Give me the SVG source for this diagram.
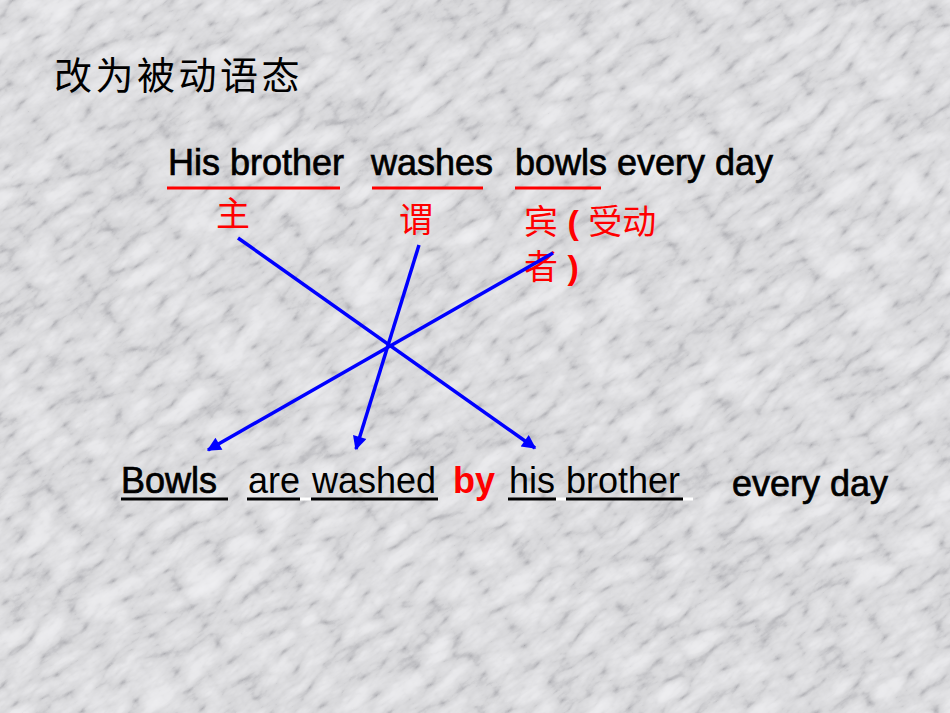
<svg xmlns="http://www.w3.org/2000/svg" width="950" height="713" viewBox="0 0 950 713">
<defs>
<filter id="marble" x="0" y="0" width="100%" height="100%" color-interpolation-filters="sRGB">
<feTurbulence type="turbulence" baseFrequency="0.02 0.045" numOctaves="5" seed="11" result="t"/>
<feColorMatrix in="t" type="matrix" values="0.33 0.33 0.33 0 0  0.33 0.33 0.33 0 0  0.33 0.33 0.33 0 0  0 0 0 0 1" result="g"/>
<feComponentTransfer in="g">
<feFuncR type="table" tableValues="0.66 0.84 0.91 0.94 0.95"/>
<feFuncG type="table" tableValues="0.66 0.84 0.91 0.94 0.95"/>
<feFuncB type="table" tableValues="0.68 0.85 0.92 0.95 0.96"/>
</feComponentTransfer>
</filter>
<marker id="arr" viewBox="0 0 10 10" refX="9" refY="5" markerWidth="5" markerHeight="4" orient="auto" markerUnits="strokeWidth">
<path d="M0,0 L10,5 L0,10 Z" fill="#0000ff"/>
</marker>
<style>
.en{font-family:"Liberation Sans",Arial,sans-serif;font-size:36px;fill:#000}
.bold{stroke:#000;stroke-width:0.7}
.cn{font-family:"Liberation Sans","Noto Sans CJK SC",sans-serif;fill:#ff0000;font-size:34px}
.red{stroke:#ff0000;stroke-width:3}
.blk{stroke:#000;stroke-width:3}
.wht{stroke:#ffffff;stroke-width:3}
.conn{stroke:#0000ff;stroke-width:3.5;fill:none;marker-end:url(#arr)}
</style>
</defs>
<rect width="950" height="713" fill="#e4e4e4"/>
<rect x="-300" y="-300" width="1550" height="1313" filter="url(#marble)" transform="rotate(-35 475 356)"/>

<g id="title">
<text x="54" y="89" font-family="'Noto Sans CJK SC',sans-serif" font-size="38" letter-spacing="3.5" fill="#000">改为被动语态</text>
</g>

<g id="active-sentence">
<text class="en bold" x="168" y="175">His brother</text>
<text class="en bold" x="371" y="175">washes</text>
<text class="en bold" x="515" y="175">bowls every day</text>
<line class="red" x1="167" y1="188" x2="340" y2="188"/>
<line class="red" x1="372" y1="188" x2="483" y2="188"/>
<line class="red" x1="515" y1="188" x2="601" y2="188"/>
</g>

<g id="label-subject"><text class="cn" x="216" y="226">主</text></g>
<g id="label-predicate"><text class="cn" x="399" y="232">谓</text></g>
<g id="label-object">
<text class="cn" x="524" y="234">宾<tspan font-weight="bold"> ( </tspan>受动</text>
<text class="cn" x="524" y="279">者<tspan font-weight="bold"> )</tspan></text>
</g>

<g id="passive-sentence">
<text class="en bold" x="121" y="493">Bowls</text>
<text class="en" x="248" y="493">are</text>
<text class="en" x="312" y="493">washed</text>
<text class="en" x="453" y="493" font-weight="bold" style="fill:#ff0000">by</text>
<text class="en" x="509" y="493">his</text>
<text class="en" x="566" y="493">brother</text>
<text class="en bold" x="732" y="496">every day</text>
<line class="blk" x1="121" y1="499" x2="228" y2="499"/>
<line class="blk" x1="247" y1="499" x2="300" y2="499"/>
<line class="wht" x1="300" y1="499" x2="311" y2="499"/>
<line class="blk" x1="311" y1="499" x2="438" y2="499"/>
<line class="blk" x1="508" y1="499" x2="556" y2="499"/>
<line class="wht" x1="556" y1="499" x2="566" y2="499"/>
<line class="blk" x1="566" y1="499" x2="683" y2="499"/>
<line class="wht" x1="683" y1="499" x2="693" y2="499"/>
</g>

<g id="connectors">
<line class="conn" x1="238" y1="238" x2="535" y2="448"/>
<line class="conn" x1="419" y1="245" x2="356" y2="449"/>
<line class="conn" x1="553" y1="253" x2="208" y2="450"/>
</g>
</svg>
